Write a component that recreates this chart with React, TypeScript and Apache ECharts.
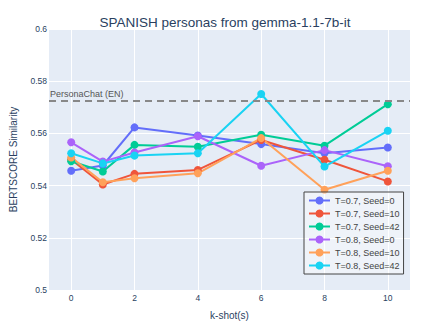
import React, { useEffect, useRef } from "react";
import * as echarts from "echarts";

const kShots = [0, 1, 2, 4, 6, 8, 10];
const seriesNames = [
  "T=0.7, Seed=0",
  "T=0.7, Seed=10",
  "T=0.7, Seed=42",
  "T=0.8, Seed=0",
  "T=0.8, Seed=10",
  "T=0.8, Seed=42",
];
const t07s0 = [0.5457, 0.5477, 0.5623, 0.5592, 0.5559, 0.5524, 0.5546];
const t07s10 = [0.5500, 0.5404, 0.5445, 0.5460, 0.5575, 0.5499, 0.5416];
const t07s42 = [0.5493, 0.5454, 0.5556, 0.5549, 0.5595, 0.5553, 0.5712];
const t08s0 = [0.5566, 0.5492, 0.5527, 0.5589, 0.5476, 0.5536, 0.5474];
const t08s10 = [0.5508, 0.5413, 0.5428, 0.5447, 0.5582, 0.5384, 0.5457];
const t08s42 = [0.5524, 0.5485, 0.5515, 0.5524, 0.5751, 0.5473, 0.5610];
const allValues = [t07s0, t07s10, t07s42, t08s0, t08s10, t08s42];
const colors = ["#636efa", "#EF553B", "#00cc96", "#ab63fa", "#FFA15A", "#19d3f3"];
const xTicks = [0, 2, 4, 6, 8, 10];
const baselineValue = 0.5725;
const baselineLabel = "PersonaChat (EN)";

const FONT = '"Liberation Sans", Arial, sans-serif';
const TXT = "#2a3f5f";

export default function App() {
  const ref = useRef<HTMLDivElement>(null);
  useEffect(() => {
    if (!ref.current) return;
    const chart = echarts.init(ref.current, null, { renderer: "svg" });
    const series: any[] = allValues.map((vals, i) => ({
      name: seriesNames[i],
      type: "line",
      data: kShots.map((k, j) => [k, vals[j]]),
      symbol: "circle",
      symbolSize: 8,
      lineStyle: { width: 2, color: colors[i] },
      itemStyle: { color: colors[i] },
      emphasis: { disabled: true },
    }));
    series[0].markLine = {
      silent: true,
      precision: 4,
      symbol: ["none", "none"],
      lineStyle: { type: [7, 5], color: "#888888", width: 2 },
      label: {
        position: "insideStartTop",
        formatter: baselineLabel,
        color: "#555",
        fontSize: 9,
        fontFamily: FONT,
        distance: [1, 2],
      },
      data: [{ yAxis: baselineValue }],
    };
    chart.setOption({
      animation: false,
      backgroundColor: "#ffffff",
      color: colors,
      title: {
        text: "SPANISH personas from gemma-1.1-7b-it",
        left: 220,
        textAlign: "center",
        top: 10,
        textStyle: { color: TXT, fontSize: 13.5, fontWeight: "normal", fontFamily: FONT },
      },
      grid: {
        left: 45,
        right: 29,
        top: 29,
        bottom: 39,
        show: true,
        backgroundColor: "#E5ECF6",
        borderWidth: 0,
      },
      legend: {
        orient: "vertical",
        left: 304,
        top: 192,
        padding: [4, 4, 4, 4],
        itemWidth: 21,
        itemHeight: 10,
        itemGap: 4,
        borderColor: "#444",
        borderWidth: 1,
        backgroundColor: "rgba(255,255,255,0.4)",
        textStyle: { color: "#444", fontSize: 9, fontFamily: FONT },
        data: seriesNames,
      },
      xAxis: {
        type: "value",
        min: -0.7,
        max: 10.7,
        name: "k-shot(s)",
        nameLocation: "middle",
        nameGap: 20,
        nameTextStyle: { color: TXT, fontSize: 10, fontFamily: FONT },
        axisLine: { show: false },
        axisTick: { show: false, customValues: xTicks },
        axisLabel: { customValues: xTicks, color: TXT, fontSize: 8.5, fontFamily: FONT, margin: 3 },
        splitLine: { show: true, lineStyle: { color: "#ffffff", width: 1 } },
      },
      yAxis: {
        type: "value",
        min: 0.5,
        max: 0.6,
        interval: 0.02,
        name: "BERTSCORE Similarity",
        nameLocation: "middle",
        nameGap: 31,
        nameTextStyle: { color: TXT, fontSize: 10, fontFamily: FONT },
        axisLine: { show: false },
        axisTick: { show: false },
        axisLabel: {
          color: TXT,
          fontSize: 8.5,
          fontFamily: FONT,
          margin: 2,
          formatter: (v: number) => String(parseFloat(v.toFixed(3))),
        },
        splitLine: { show: true, lineStyle: { color: "#ffffff", width: 1 } },
      },
      series,
    });
    return () => chart.dispose();
  }, []);
  return <div ref={ref} style={{ width: 439, height: 329, margin: -8 }} />;
}
